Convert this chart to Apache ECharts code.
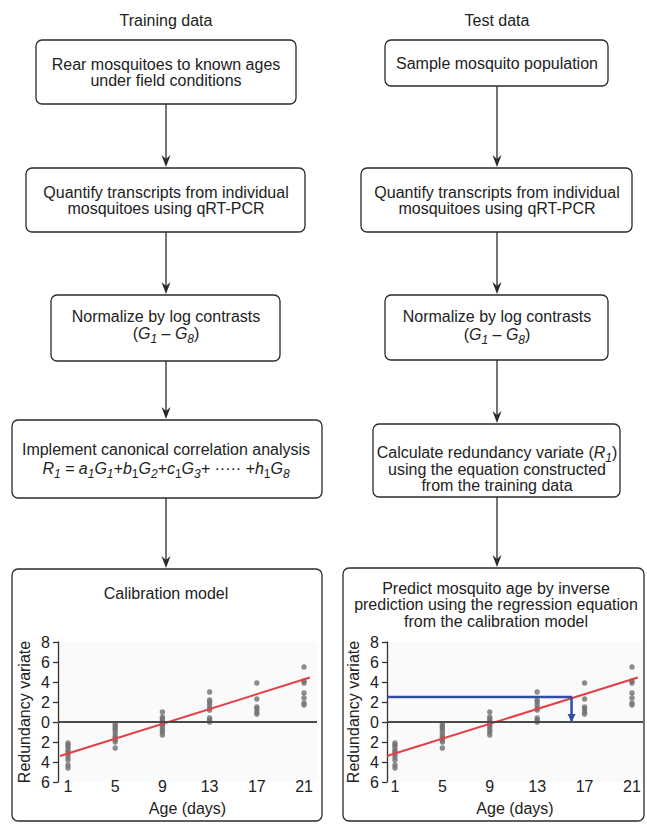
<!DOCTYPE html>
<html><head><meta charset="utf-8">
<script src="https://cdn.jsdelivr.net/npm/echarts@6/dist/echarts.min.js"></script>
<style>html,body{margin:0;padding:0;background:#fff}#c{width:647px;height:825px}</style>
</head><body><div id="c"></div>
<script>
// ---------- data ----------
const ageTicks = [1, 5, 9, 13, 17, 21];
const age1  = [-2.1, -2.3, -2.5, -2.8, -3.0, -3.2, -3.5, -3.8, -4.3, -4.6];
const age5  = [-0.2, -0.4, -0.6, -0.8, -1.1, -1.4, -1.6, -1.8, -2.0, -2.6];
const age9  = [1.0, 0.5, 0.3, 0.1, -0.1, -0.3, -0.5, -0.8, -1.0, -1.3];
const age13 = [3.0, 2.2, 2.0, 1.7, 1.4, 1.2, 0.4, 0.2, 0.0];
const age17 = [3.9, 2.3, 1.5, 1.3, 1.0, 0.8];
const age21 = [5.5, 4.1, 3.9, 2.9, 2.4, 1.9, 1.7];
const fitX = [0.32, 21.5];
const fitY = [-3.4, 4.45];
const predX = [0.33, 15.9, 15.9];
const predY = [2.5, 2.5, 0];

// ---------- texts ----------
const titleLeft = 'Training data';
const titleRight = 'Test data';
const leftBox1 = ['Rear mosquitoes to known ages', 'under field conditions'];
const box2 = ['Quantify transcripts from individual', 'mosquitoes using qRT-PCR'];
const box3 = ['Normalize by log contrasts', '{n|(}{i|G}{s|1}{n| – }{i|G}{s|8}{n|)}'];
const leftBox4 = ['Implement canonical correlation analysis',
  '{i|R}{s|1}{i| = a}{s|1}{i|G}{s|1}{i|+b}{u|1}{i|G}{s|2}{i|+c}{u|1}{i|G}{s|3}{i|+ ····· +h}{u|1}{i|G}{s|8}'];
const leftBox5 = ['Calibration model'];
const rightBox1 = ['Sample mosquito population'];
const rightBox4 = ['{n|Calculate redundancy variate (}{i|R}{s|1}{n|)}', 'using the equation constructed', 'from the training data'];
const rightBox5 = ['Predict mosquito age by inverse', 'prediction using the regression equation', 'from the calibration model'];

const FONT = '"Liberation Sans", Arial, Helvetica, sans-serif';
const INK = '#222';
const LINE = '#2a2a2a';

const byAge = [age1, age5, age9, age13, age17, age21];
const points = [];
byAge.forEach((vals, i) => vals.forEach(v => points.push([ageTicks[i], v])));

const rich = {
  n: {fontSize: 16, fontFamily: FONT, fill: INK, lineHeight: 20},
  i: {fontSize: 16, fontFamily: FONT, fill: INK, fontStyle: 'italic', lineHeight: 20},
  s: {fontSize: 12, fontFamily: FONT, fill: INK, fontStyle: 'italic', lineHeight: 12, padding: [10, 0, 0, 0], verticalAlign: 'top'},
  u: {fontSize: 12, fontFamily: FONT, fill: INK, lineHeight: 12, padding: [10, 0, 0, 0], verticalAlign: 'top'}
};

const graphics = [];
function box(x1, y1, x2, y2) {
  graphics.push({type: 'rect', shape: {x: x1, y: y1, width: x2 - x1, height: y2 - y1, r: 6},
    style: {fill: 'none', stroke: LINE, lineWidth: 1.3}, silent: true});
}
function text(cx, cy, str) {
  graphics.push({type: 'text', x: cx, y: cy, silent: true,
    style: {text: str, fontSize: 16, fontFamily: FONT, fill: INK, align: 'center', verticalAlign: 'middle', rich: rich}});
}
function lines(cx, ys, arr) { arr.forEach((s, k) => text(cx, ys[k], s)); }
function arrow(cx, y1, tip) {
  graphics.push({type: 'line', shape: {x1: cx, y1: y1, x2: cx, y2: tip - 7}, style: {stroke: LINE, lineWidth: 1.3}, silent: true});
  graphics.push({type: 'polygon', shape: {points: [[cx, tip], [cx - 4.5, tip - 12], [cx, tip - 8], [cx + 4.5, tip - 12]]},
    style: {fill: LINE}, silent: true});
}

const LC = 166, RC = 497;
text(LC, 20, titleLeft);
text(RC, 20, titleRight);
// left column
box(36, 40, 296, 104); lines(LC, [64, 80], leftBox1); arrow(LC, 104, 167);
box(26, 168, 305, 232); lines(LC, [192, 208], box2); arrow(LC, 232, 294);
box(51, 295, 280, 361); lines(LC, [316, 333], box3); arrow(LC, 361, 419);
box(12, 420, 322, 498); lines(LC, [449, 468], leftBox4); arrow(LC, 498, 568);
box(12, 569, 322, 821); lines(LC, [593], leftBox5);
// right column
box(385, 40, 608, 86); lines(RC, [63], rightBox1); arrow(RC, 86, 167);
box(361, 168, 632, 232); lines(RC, [192, 208], box2); arrow(RC, 232, 294);
box(385, 295, 608, 360); lines(RC, [316, 334], box3); arrow(RC, 360, 423);
box(373, 424, 620, 497); lines(RC, [452, 469, 485], rightBox4); arrow(RC, 497, 567);
box(343, 568, 644, 821); lines(496, [588, 604.5, 621], rightBox5);

function xAx(g, min, max) {
  return {gridIndex: g, type: 'value', min: min, max: max,
    axisLine: {show: false}, axisTick: {show: false}, splitLine: {show: false},
    axisLabel: {customValues: ageTicks, fontSize: 16, color: INK, fontFamily: FONT, verticalAlign: 'middle', margin: 4},
    name: 'Age (days)', nameLocation: 'middle', nameGap: 18,
    nameTextStyle: {fontSize: 16, color: INK, fontFamily: FONT, verticalAlign: 'top'}};
}
function yAx(g) {
  return {gridIndex: g, type: 'value', min: -6, max: 8, interval: 2,
    axisLine: {show: true, lineStyle: {color: '#333', width: 1.3}},
    axisTick: {show: true, length: 5, lineStyle: {color: '#333', width: 1.3}},
    splitLine: {show: false},
    axisLabel: {formatter: v => String(Math.abs(v)), fontSize: 16, color: INK, fontFamily: FONT, margin: 8},
    name: 'Redundancy variate', nameLocation: 'middle', nameGap: 26,
    nameTextStyle: {fontSize: 16, color: INK, fontFamily: FONT}};
}
function scatter(g) {
  return {type: 'scatter', xAxisIndex: g, yAxisIndex: g, data: points, symbolSize: 5.5,
    itemStyle: {color: '#707070'}, z: 2,
    markLine: {silent: true, symbol: 'none', label: {show: false}, animation: false,
      lineStyle: {color: '#4a4a4a', width: 2, type: 'solid'}, data: [{yAxis: 0}]}};
}
function fit(g) {
  return {type: 'line', xAxisIndex: g, yAxisIndex: g, data: fitX.map((x, k) => [x, fitY[k]]),
    showSymbol: false, symbol: 'none', lineStyle: {color: '#e43f46', width: 2}, z: 4};
}

const chart = echarts.init(document.getElementById('c'), null, {renderer: 'svg'});
chart.setOption({
  animation: false,
  backgroundColor: '#fff',
  grid: [
    {left: 58, top: 642, width: 259, height: 140, show: true, backgroundColor: '#fafafa', borderWidth: 0},
    {left: 387, top: 642, width: 256, height: 140, show: true, backgroundColor: '#fafafa', borderWidth: 0}
  ],
  xAxis: [xAx(0, 0.153, 22.1), xAx(1, 0.33, 21.93)],
  yAxis: [yAx(0), yAx(1)],
  series: [
    scatter(0), fit(0),
    scatter(1), fit(1),
    {type: 'line', xAxisIndex: 1, yAxisIndex: 1, symbol: 'none', showSymbol: true, z: 5,
      lineStyle: {color: '#2f4ea3', width: 2.5}, itemStyle: {color: '#2f4ea3'},
      data: predX.map((x, k) => k === predX.length - 1
        ? {value: [x, predY[k]], symbol: 'triangle', symbolSize: [8, 8], symbolRotate: 180, symbolOffset: [0, -4]}
        : {value: [x, predY[k]], symbol: 'none'})}
  ],
  graphic: graphics
});
</script></body></html>
